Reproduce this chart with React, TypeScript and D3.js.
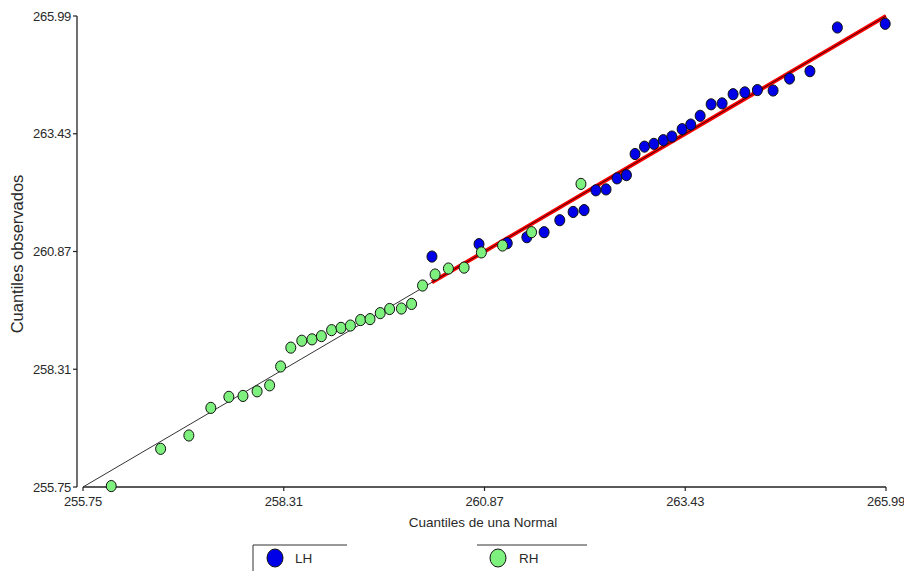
import React from "react";
import * as d3 from "d3";

const ticks = [255.75, 258.31, 260.87, 263.43, 265.99];
const tickLabels = ["255.75", "258.31", "260.87", "263.43", "265.99"];

const rhX = [256.11, 256.74, 257.10, 257.38, 257.61, 257.79, 257.97, 258.13, 258.27, 258.40, 258.54, 258.67, 258.79, 258.92, 259.04, 259.16, 259.29, 259.41, 259.54, 259.66, 259.81, 259.94, 260.08, 260.24, 260.41, 260.61, 260.83, 261.10, 261.47, 262.10];
const rhY = [255.77, 256.58, 256.87, 257.47, 257.71, 257.73, 257.83, 257.96, 258.37, 258.78, 258.93, 258.96, 259.03, 259.16, 259.21, 259.26, 259.38, 259.40, 259.53, 259.62, 259.63, 259.73, 260.13, 260.37, 260.50, 260.52, 260.85, 261.00, 261.29, 262.34];

const lhX = [260.20, 260.80, 261.16, 261.41, 261.63, 261.83, 262.00, 262.14, 262.29, 262.42, 262.56, 262.68, 262.79, 262.91, 263.03, 263.15, 263.26, 263.39, 263.50, 263.62, 263.76, 263.90, 264.04, 264.19, 264.35, 264.55, 264.76, 265.02, 265.37, 265.98];
const lhY = [260.76, 261.03, 261.05, 261.18, 261.29, 261.55, 261.73, 261.77, 262.20, 262.22, 262.46, 262.53, 262.99, 263.15, 263.21, 263.29, 263.37, 263.53, 263.63, 263.82, 264.07, 264.09, 264.29, 264.33, 264.38, 264.37, 264.63, 264.79, 265.74, 265.82];

const seriesNames = ["LH", "RH"];
const BLUE = "#0000e8";
const GREEN = "#7ef07e";
const FONT = "'Liberation Sans', Arial, sans-serif";
const TXT = "#2a2a2a";

export default function App() {
  const W = 904, H = 571;
  const x = d3.scaleLinear().domain([255.75, 265.99]).range([83, 886]);
  const y = d3.scaleLinear().domain([255.75, 265.99]).range([487, 16]);
  const line = d3.line<[number, number]>().x(d => x(d[0])).y(d => y(d[1]));
  const fullLine: [number, number][] = [[255.75, 255.75], [265.99, 265.99]];
  const lhMin = d3.min(lhX) as number;
  const redLine: [number, number][] = [[lhMin, lhMin], [265.99, 265.99]];
  const rh = rhX.map((v, i) => [v, rhY[i]]);
  const lh = lhX.map((v, i) => [v, lhY[i]]);
  const yAxisX = 77;

  return (
    <svg width={W} height={H} style={{ position: "absolute", left: 0, top: 0, background: "#fff" }} fontFamily={FONT}>
      {/* Y axis */}
      <line x1={yAxisX} x2={yAxisX} y1={y(265.99)} y2={y(255.75)} stroke="#222" strokeWidth={1.3} />
      {ticks.map((t, i) => (
        <g key={"yt" + i}>
          <line x1={yAxisX - 4} x2={yAxisX} y1={y(t)} y2={y(t)} stroke="#222" strokeWidth={1.2} />
          <text x={yAxisX - 6} y={y(t)} dy="0.35em" textAnchor="end" fontSize={13} fill={TXT} letterSpacing={-0.3}>{tickLabels[i]}</text>
        </g>
      ))}
      {/* X axis */}
      <line x1={x(255.75)} x2={x(265.99)} y1={487} y2={487} stroke="#222" strokeWidth={1.3} />
      {ticks.map((t, i) => (
        <g key={"xt" + i}>
          <line x1={x(t)} x2={x(t)} y1={487} y2={491} stroke="#222" strokeWidth={1.2} />
          <text x={x(t)} y={506} textAnchor="middle" fontSize={13} fill={TXT} letterSpacing={-0.3}>{tickLabels[i]}</text>
        </g>
      ))}
      <text x={483} y={527} textAnchor="middle" fontSize={13.5} fill={TXT}>Cuantiles de una Normal</text>
      <text transform={`translate(23,254) rotate(-90)`} textAnchor="middle" fontSize={16.5} fill={TXT}>Cuantiles observados</text>

      {/* reference lines */}
      <path d={line(fullLine) as string} stroke="#333" strokeWidth={1} fill="none" />
      <path d={line(redLine) as string} stroke="#ff0000" strokeWidth={4} fill="none" />
      <path d={line(redLine) as string} stroke="#400" strokeWidth={1} fill="none" />

      {/* points */}
      {lh.map((p, i) => (
        <ellipse key={"lh" + i} cx={x(p[0])} cy={y(p[1])} rx={5} ry={5.6} fill={BLUE} stroke="#111" strokeWidth={1} />
      ))}
      {rh.map((p, i) => (
        <ellipse key={"rh" + i} cx={x(p[0])} cy={y(p[1])} rx={5} ry={5.6} fill={GREEN} stroke="#111" strokeWidth={1} />
      ))}

      {/* legend */}
      <line x1={253} x2={347} y1={545} y2={545} stroke="#333" strokeWidth={1} />
      <line x1={253} x2={253} y1={545} y2={571} stroke="#333" strokeWidth={1} />
      <ellipse cx={275} cy={558} rx={8} ry={9} fill={BLUE} stroke="#111" strokeWidth={1} />
      <text x={295} y={563} fontSize={13.5} fill={TXT}>{seriesNames[0]}</text>
      <line x1={477} x2={587} y1={545} y2={545} stroke="#333" strokeWidth={1} />
      <ellipse cx={498} cy={558} rx={8} ry={9} fill={GREEN} stroke="#111" strokeWidth={1} />
      <text x={519} y={563} fontSize={13.5} fill={TXT}>{seriesNames[1]}</text>
    </svg>
  );
}
